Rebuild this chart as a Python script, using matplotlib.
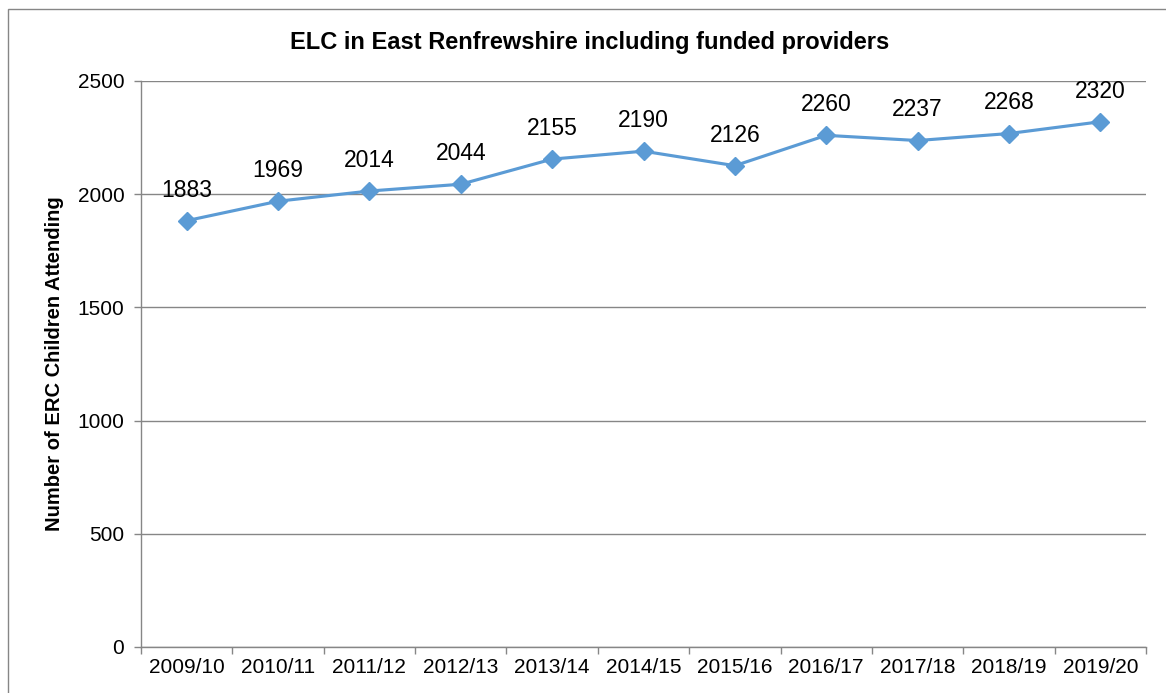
"""
ELC in East Renfrewshire line chart
outputs: out.png
"""

import matplotlib.pyplot as plt
from matplotlib.patches import Rectangle

# -- DATA --
years = [
    "2009/10", "2010/11", "2011/12", "2012/13", "2013/14", "2014/15",
    "2015/16", "2016/17", "2017/18", "2018/19", "2019/20",
]
children = [1883, 1969, 2014, 2044, 2155, 2190, 2126, 2260, 2237, 2268, 2320]
y_ticks = [0, 500, 1000, 1500, 2000, 2500]

# -- STYLE --
plt.rcParams["font.family"] = ["Liberation Sans", "DejaVu Sans"]
LINE = "#5B9BD5"
GRID = "#868686"

W, H = 1166, 693
fig = plt.figure(figsize=(W / 100, H / 100), dpi=100)
ax = fig.add_axes([141 / W, 1 - 647 / H, (1146 - 141) / W, (647 - 81) / H])

# -- PLOT --
x = list(range(len(years)))
ax.plot(x, children, color=LINE, linewidth=2.25, marker="D", markersize=9,
        zorder=3, clip_on=False)

for xi, v in zip(x, children):
    ax.annotate(str(v), (xi, v), xytext=(0, 22), textcoords="offset points",
                ha="center", va="center", fontsize=16.5, color="black",
                zorder=4)

ax.set_xlim(-0.5, len(years) - 0.5)
ax.set_ylim(0, 2500)
ax.set_yticks(y_ticks)
ax.set_xticks(x)
ax.set_xticklabels(years)
ax.set_xticks([i - 0.5 for i in range(len(years) + 1)], minor=True)
ax.tick_params(axis="x", which="major", length=0, pad=8, labelsize=15)
ax.tick_params(axis="x", which="minor", length=5, color=GRID, width=1)
ax.tick_params(axis="y", length=5, color=GRID, width=1, pad=7, labelsize=15)

ax.yaxis.grid(True, color=GRID, linewidth=1)
ax.set_axisbelow(True)
for side in ["top", "right"]:
    ax.spines[side].set_visible(False)
for side in ["left", "bottom"]:
    ax.spines[side].set_color(GRID)
    ax.spines[side].set_linewidth(1)

ax.set_ylabel("Number of ERC Children Attending", fontsize=14.5,
              fontweight="bold", labelpad=10)
fig.text(590 / W, 1 - 42 / H, "ELC in East Renfrewshire including funded providers",
         ha="center", va="center", fontsize=17, fontweight="bold")

# chart border
fig.patches.append(Rectangle((8 / W, -0.1), 1.2, 1.1 - 9 / H, transform=fig.transFigure,
                             fill=False, edgecolor=GRID, linewidth=1))

fig.savefig("out.png", dpi=100)
